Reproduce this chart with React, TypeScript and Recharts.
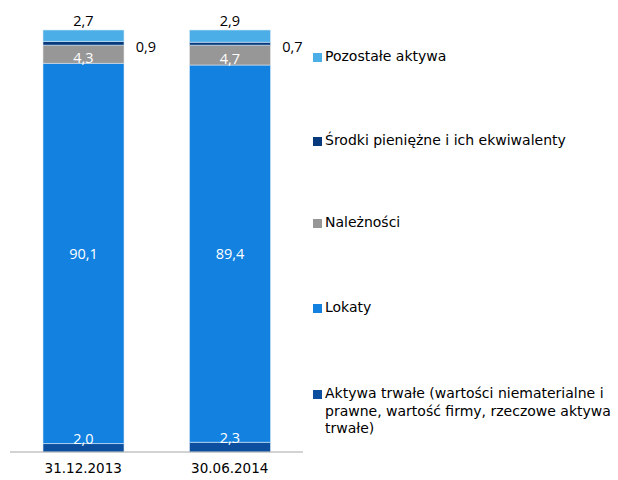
import { Bar, BarChart, LabelList, Legend, XAxis, YAxis } from 'recharts';

const categories = ['31.12.2013', '30.06.2014'];
const aktywaTrwale = [2.0, 2.3];
const lokaty = [90.1, 89.4];
const naleznosci = [4.3, 4.7];
const srodki = [0.9, 0.7];
const pozostale = [2.7, 2.9];

const SERIES = [
  { key: 'aktywa', name: 'Aktywa trwałe (wartości niematerialne i prawne, wartość firmy, rzeczowe aktywa trwałe)', color: '#0b4f9e', values: aktywaTrwale },
  { key: 'lokaty', name: 'Lokaty', color: '#1281e0', values: lokaty },
  { key: 'naleznosci', name: 'Należności', color: '#979797', values: naleznosci },
  { key: 'srodki', name: 'Środki pieniężne i ich ekwiwalenty', color: '#063a7c', values: srodki },
  { key: 'pozostale', name: 'Pozostałe aktywa', color: '#4caee6', values: pozostale },
];

// legend rows, top to bottom
const LEGEND_ROWS = [
  { key: 'pozostale', top: 48 },
  { key: 'srodki', top: 132 },
  { key: 'naleznosci', top: 214 },
  { key: 'lokaty', top: 299 },
  { key: 'aktywa', top: 385 },
];

const data = categories.map((name, i) => {
  const row: Record<string, string | number> = { name };
  SERIES.forEach((s) => {
    row[s.key] = s.values[i];
  });
  return row;
});

const fmt = (v: number) => v.toFixed(1).replace('.', ',');
const valueFont = '"Open Sans", sans-serif';
const valueSize = 14.5;

function insideLabel(offsetY: number) {
  return (props: any) => {
    const { x, y, width, height, value } = props;
    return (
      <text
        x={x + width / 2}
        y={y + height / 2 + offsetY}
        fill="#ffffff"
        textAnchor="middle"
        dominantBaseline="central"
        fontFamily={valueFont}
        fontSize={valueSize}
      >
        {fmt(value)}
      </text>
    );
  };
}

function aboveLabel(props: any) {
  const { x, y, width, value } = props;
  return (
    <text x={x + width / 2} y={y - 10} fill="#000" textAnchor="middle" dominantBaseline="central" fontFamily={valueFont} fontSize={valueSize}>
      {fmt(value)}
    </text>
  );
}

function rightLabel(props: any) {
  const { x, y, width, height, value } = props;
  return (
    <text x={x + width + 22} y={y + height / 2 + 3} fill="#000" textAnchor="middle" dominantBaseline="central" fontFamily={valueFont} fontSize={valueSize}>
      {fmt(value)}
    </text>
  );
}

function bottomLabel(props: any) {
  const { x, y, width, value } = props;
  return (
    <text x={x + width / 2} y={y - 5} fill="#ffffff" textAnchor="middle" dominantBaseline="central" fontFamily={valueFont} fontSize={valueSize}>
      {fmt(value)}
    </text>
  );
}

function renderLegend() {
  return (
    <div style={{ position: 'relative', width: 305, height: 480 }}>
      {LEGEND_ROWS.map((row) => {
        const s = SERIES.find((item) => item.key === row.key)!;
        return (
          <div
            key={row.key}
            style={{
              position: 'absolute',
              left: 0,
              top: row.top,
              width: 305,
              display: 'flex',
              alignItems: 'flex-start',
              fontFamily: '"DejaVu Sans", sans-serif',
              fontSize: 14,
              lineHeight: '17.5px',
              color: '#000',
            }}
          >
            <span style={{ display: 'inline-block', width: 9, height: 9, marginTop: 5, marginRight: 3, background: s.color, flexShrink: 0 }} />
            <span>{s.name}</span>
          </div>
        );
      })}
    </div>
  );
}

export default function App() {
  return (
    <div style={{ position: 'absolute', left: 0, top: 0, width: 618, height: 480, background: '#fff', overflow: 'hidden' }}>
      <BarChart width={618} height={480} data={data} margin={{ top: 30, right: 315, bottom: 0, left: 10 }}>
        <XAxis
          dataKey="name"
          height={28}
          axisLine={{ stroke: '#a6a6a6' }}
          tickLine={false}
          tickSize={0}
          tickMargin={11}
          tick={{ fill: '#000', fontSize: 13.5, fontFamily: '"DejaVu Sans", sans-serif' }}
        />
        <YAxis hide domain={[0, 100]} />
        <Legend
          layout="vertical"
          align="center"
          verticalAlign="middle"
          content={renderLegend}
          wrapperStyle={{ position: 'absolute', left: 313, top: 0, width: 305, height: 480 }}
        />
        <Bar dataKey="aktywa" name={SERIES[0].name} stackId="a" fill={SERIES[0].color} barSize={81} stroke="#d6e8f7" strokeWidth={0.6} isAnimationActive={false}>
          <LabelList dataKey="aktywa" content={bottomLabel} />
        </Bar>
        <Bar dataKey="lokaty" name={SERIES[1].name} stackId="a" fill={SERIES[1].color} barSize={81} stroke="#d6e8f7" strokeWidth={0.6} isAnimationActive={false}>
          <LabelList dataKey="lokaty" content={insideLabel(0)} />
        </Bar>
        <Bar dataKey="naleznosci" name={SERIES[2].name} stackId="a" fill={SERIES[2].color} barSize={81} stroke="#e6e6e6" strokeWidth={0.6} isAnimationActive={false}>
          <LabelList dataKey="naleznosci" content={insideLabel(3)} />
        </Bar>
        <Bar dataKey="srodki" name={SERIES[3].name} stackId="a" fill={SERIES[3].color} barSize={81} stroke="#d6e8f7" strokeWidth={0.6} isAnimationActive={false}>
          <LabelList dataKey="srodki" content={rightLabel} />
        </Bar>
        <Bar dataKey="pozostale" name={SERIES[4].name} stackId="a" fill={SERIES[4].color} barSize={81} stroke="#d6e8f7" strokeWidth={0.6} isAnimationActive={false}>
          <LabelList dataKey="pozostale" content={aboveLabel} />
        </Bar>
      </BarChart>
    </div>
  );
}
